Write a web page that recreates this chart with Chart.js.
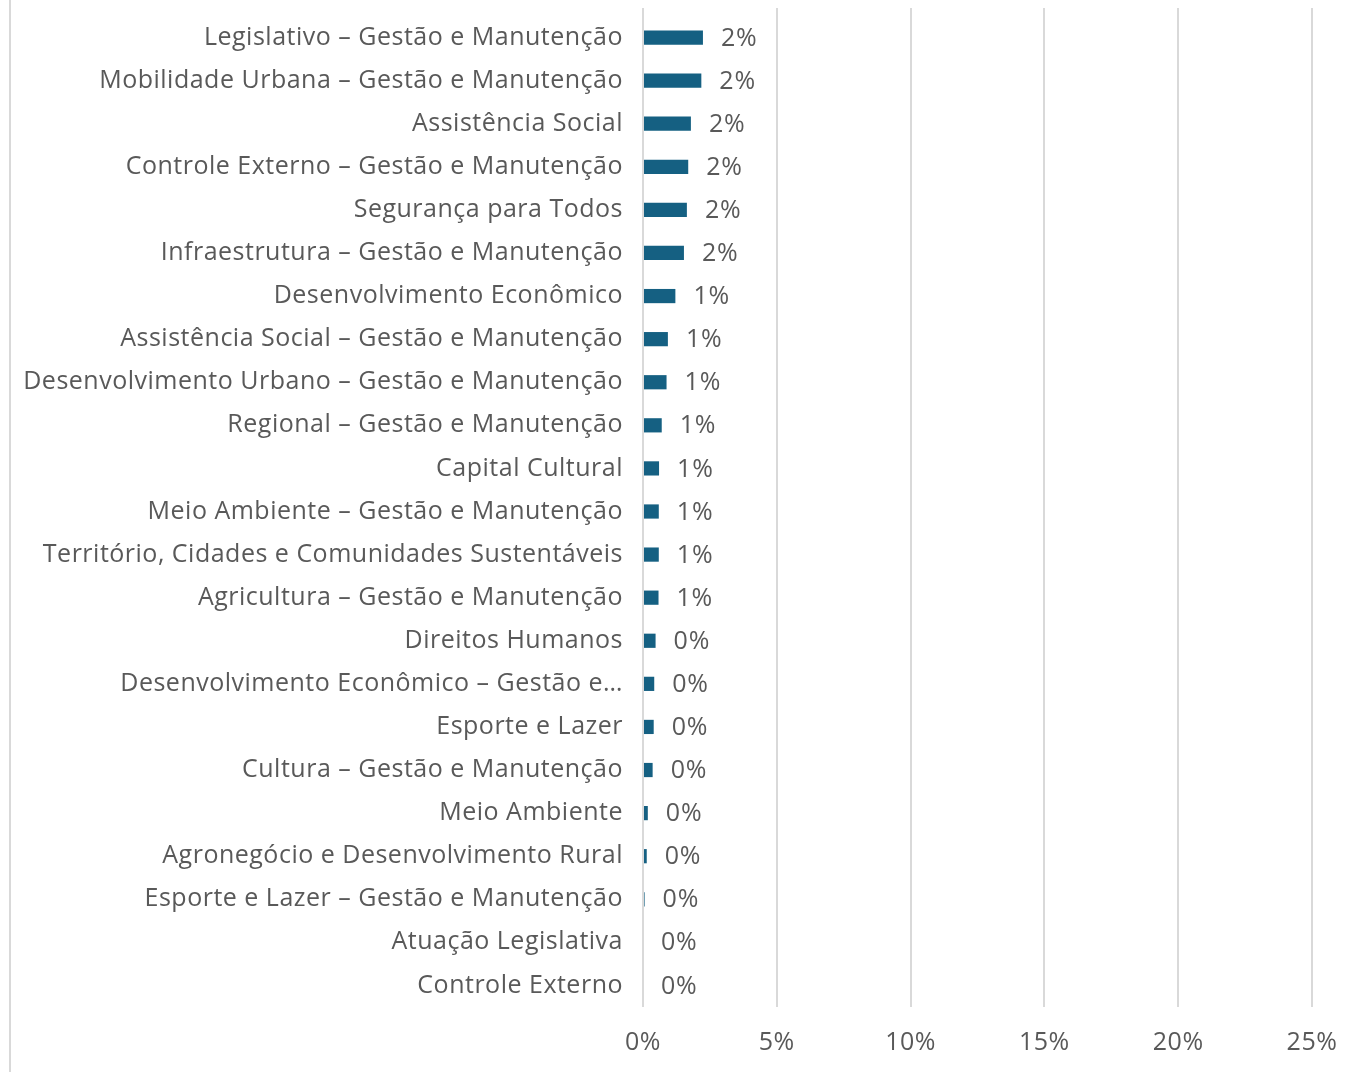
<!DOCTYPE html>
<html>
<head>
<meta charset="utf-8">
<script src="https://cdn.jsdelivr.net/npm/chart.js@4"></script>
<style>
  html, body { margin: 0; padding: 0; background: #fff; }
  #wrap { position: relative; width: 1362px; height: 1072px; }
  #wrap:before { content: ''; position: absolute; left: 9px; top: 0; width: 2px; height: 1072px; background: #d9d9d9; }
</style>
</head>
<body>
<div id="wrap"><canvas id="grafico" width="1362" height="1072"></canvas></div>
<script>
const categorias = [
    'Legislativo – Gestão e Manutenção',
    'Mobilidade Urbana – Gestão e Manutenção',
    'Assistência Social',
    'Controle Externo – Gestão e Manutenção',
    'Segurança para Todos',
    'Infraestrutura – Gestão e Manutenção',
    'Desenvolvimento Econômico',
    'Assistência Social – Gestão e Manutenção',
    'Desenvolvimento Urbano – Gestão e Manutenção',
    'Regional – Gestão e Manutenção',
    'Capital Cultural',
    'Meio Ambiente – Gestão e Manutenção',
    'Território, Cidades e Comunidades Sustentáveis',
    'Agricultura – Gestão e Manutenção',
    'Direitos Humanos',
    'Desenvolvimento Econômico – Gestão e…',
    'Esporte e Lazer',
    'Cultura – Gestão e Manutenção',
    'Meio Ambiente',
    'Agronegócio e Desenvolvimento Rural',
    'Esporte e Lazer – Gestão e Manutenção',
    'Atuação Legislativa',
    'Controle Externo'
];

// percentuais (%)
const percentuais = [2.24, 2.18, 1.79, 1.69, 1.64, 1.53, 1.21, 0.93, 0.88, 0.70, 0.60, 0.59, 0.59, 0.58, 0.47, 0.42, 0.40, 0.36, 0.18, 0.14, 0.06, 0.0, 0.0];

const ticksX = [0, 5, 10, 15, 20, 25];

const corTexto = '#595959';
const corGrade = '#d9d9d9';
const fonte = '"Open Sans", sans-serif';

// espaçamento entre letras (fonte original é mais larga)
const espacamento = {
    id: 'espacamento',
    beforeDraw(chart) {
        chart.ctx.letterSpacing = '0.5px';
    }
};

// linhas de grade (e eixo) um pouco acima da área do gráfico
const gradeTopo = {
    id: 'gradeTopo',
    beforeDatasetsDraw(chart) {
        const { ctx, chartArea, scales } = chart;
        ctx.save();
        ctx.strokeStyle = corGrade;
        ctx.lineWidth = 2;
        ticksX.forEach(v => {
            const x = Math.round(scales.x.getPixelForValue(v));
            ctx.beginPath();
            ctx.moveTo(x, chartArea.top - 8);
            ctx.lineTo(x, chartArea.top + 1);
            ctx.stroke();
        });
        ctx.restore();
    }
};

// rótulos de dados no fim de cada barra
const rotulosBarras = {
    id: 'rotulosBarras',
    afterDatasetsDraw(chart) {
        const ctx = chart.ctx;
        const meta = chart.getDatasetMeta(0);
        ctx.save();
        ctx.font = '25px ' + fonte;
        ctx.letterSpacing = '0.8px';
        ctx.fillStyle = corTexto;
        ctx.textBaseline = 'middle';
        ctx.textAlign = 'left';
        meta.data.forEach((bar, i) => {
            const texto = Math.round(percentuais[i]) + '%';
            ctx.fillText(texto, bar.x + 18, bar.y + 1);
        });
        ctx.restore();
    }
};

const ctx = document.getElementById('grafico').getContext('2d');
const chart = new Chart(ctx, {
    type: 'bar',
    data: {
        labels: categorias,
        datasets: [{
            data: percentuais,
            backgroundColor: '#156082',
            borderWidth: 0,
            barPercentage: 0.33,
            categoryPercentage: 1
        }]
    },
    options: {
        indexAxis: 'y',
        responsive: false,
        animation: false,
        layout: { padding: { top: 16, right: 50, bottom: 0, left: 0 } },
        plugins: {
            legend: { display: false },
            tooltip: { enabled: false }
        },
        scales: {
            x: {
                min: 0,
                max: 25,
                afterBuildTicks: axis => { axis.ticks = ticksX.map(v => ({ value: v })); },
                afterFit: axis => { axis.height = 65; },
                grid: { color: corGrade, lineWidth: 2, drawTicks: false },
                border: { display: false },
                ticks: {
                    color: corTexto,
                    font: { family: fonte, size: 25 },
                    padding: 21,
                    callback: v => v + '%'
                }
            },
            y: {
                afterFit: axis => {
                    axis.width = 643;
                    axis.paddingTop = 0;
                    axis.paddingBottom = 0;
                },
                grid: { display: false, drawTicks: false },
                border: { display: false },
                ticks: {
                    color: corTexto,
                    font: { family: fonte, size: 25 },
                    padding: 20,
                    autoSkip: false
                }
            }
        }
    },
    plugins: [espacamento, gradeTopo, rotulosBarras]
});
</script>
</body>
</html>
